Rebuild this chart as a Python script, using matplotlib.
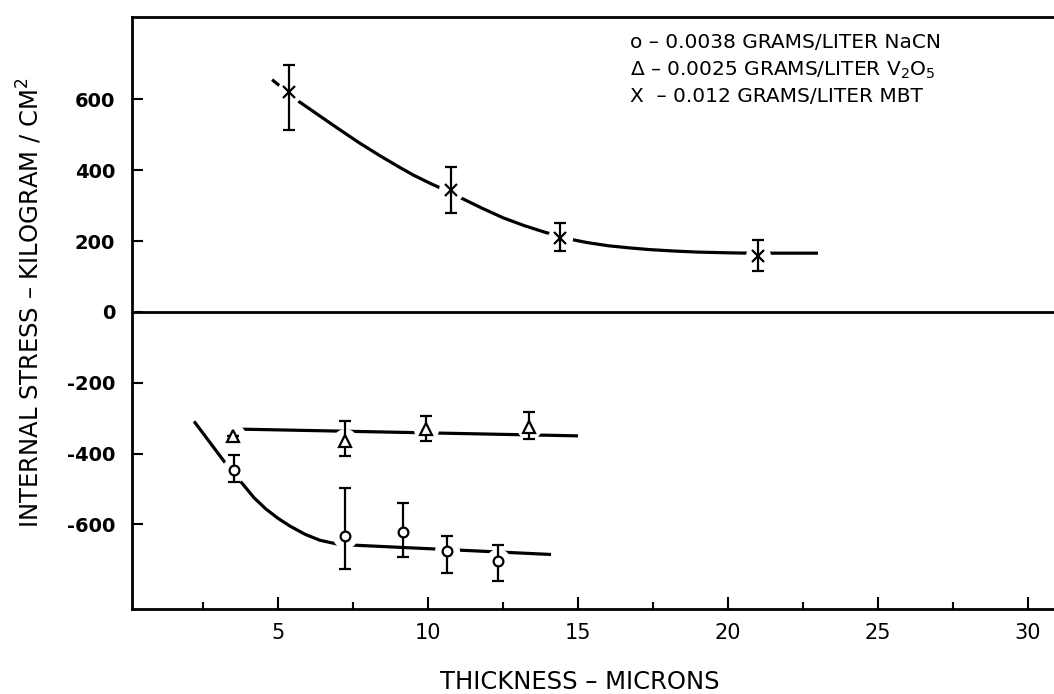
import matplotlib
matplotlib.use('Agg')
import matplotlib.pyplot as plt
import numpy as np

# thickness (microns) and internal stress (kg/cm^2)
nacn_x = [3.54, 7.23, 9.16, 10.62, 12.34]
nacn_y = [-446, -634, -621, -676, -704]
nacn_lo = [-479, -726, -692, -736, -759]
nacn_hi = [-405, -497, -540, -634, -659]

v2o5_x = [3.5, 7.23, 9.93, 13.37]
v2o5_y = [-350, -365, -331, -326]
v2o5_lo = [-350, -406, -365, -360]
v2o5_hi = [-350, -309, -293, -283]

mbt_x = [5.37, 10.78, 14.39, 20.99]
mbt_y = [621, 343, 209, 159]
mbt_lo = [515, 279, 171, 115]
mbt_hi = [698, 408, 252, 203]

# hand drawn fit curves
nacn_cx = [2.2, 3.2, 3.85, 4.2, 4.6, 5.0, 5.4, 5.9, 6.4, 7.0, 7.6, 14.1]
nacn_cy = [-309, -422, -489, -525, -557, -583, -605, -628, -645, -656, -659, -685]
v2o5_cx = [3.73, 15.0]
v2o5_cy = [-331, -350]
mbt_cx = [4.8, 5.7, 6.4, 7.0, 7.7, 8.4, 9.0, 9.5, 10.1, 10.6, 11.1, 11.8, 12.5,
          13.2, 13.9, 14.7, 15.3, 16.0, 16.7, 17.4, 18.2, 19.0, 20.0, 20.7, 23.0]
mbt_cy = [656, 594, 553, 518, 478, 441, 411, 387, 362, 343, 322, 293, 266,
          244, 225, 206, 196, 187, 181, 176, 172, 169, 167, 166, 166]

x_ticks = [5, 10, 15, 20, 25, 30]
x_minor = [2.5, 7.5, 12.5, 17.5, 22.5, 27.5]
y_ticks = [600, 400, 200, 0, -200, -400, -600]
y_labels = ['600', '400', '200', '0', '-200', '-400', '-600']

legend_lines = ['o – 0.0038 GRAMS/LITER NaCN',
                'Δ – 0.0025 GRAMS/LITER V$_2$O$_5$',
                'X  – 0.012 GRAMS/LITER MBT']

fig = plt.figure(figsize=(10.54, 6.94), dpi=100)
ax = fig.add_axes([132 / 1054, 1 - 609 / 694, 1 - 132 / 1054, (609 - 17) / 694])

for cx, cy in [(nacn_cx, nacn_cy), (v2o5_cx, v2o5_cy), (mbt_cx, mbt_cy)]:
    ax.plot(cx, cy, '-', color='black', lw=2.3, zorder=2, solid_capstyle='butt')

series = [(nacn_x, nacn_y, nacn_lo, nacn_hi, 'o', 7),
          (v2o5_x, v2o5_y, v2o5_lo, v2o5_hi, '^', 8),
          (mbt_x, mbt_y, mbt_lo, mbt_hi, 'x', 9)]
for xs, ys, lo, hi, m, ms in series:
    ys = np.array(ys)
    yerr = [ys - np.array(lo), np.array(hi) - ys]
    # white halo so the curves break around each point, as in the drawing
    ax.plot(xs, ys, 'o', ms=17, color='white', zorder=3)
    ax.errorbar(xs, ys, yerr=yerr, fmt=m, ms=ms, mfc='white', mec='black',
                mew=1.6, ecolor='black', elinewidth=1.6, capsize=4, capthick=1.6,
                zorder=4)

ax.axhline(0, color='black', lw=2)

ax.set_xlim(0.13, 30.87)
ax.set_ylim(-839, 833)
ax.set_xticks(x_ticks)
ax.set_xticks(x_minor, minor=True)
ax.set_yticks(y_ticks)
ax.set_yticklabels(y_labels, fontweight='bold')
ax.tick_params(axis='x', which='major', direction='in', length=9, width=1.5,
               labelsize=15, pad=10)
ax.tick_params(axis='x', which='minor', direction='in', length=5, width=1.5)
ax.tick_params(axis='y', direction='in', length=8, width=1.5, labelsize=14, pad=12)
for side in ['left', 'bottom', 'top']:
    ax.spines[side].set_linewidth(2)
ax.spines['right'].set_visible(False)

fig.text(30 / 1054, 1 - 303 / 694, 'INTERNAL STRESS – KILOGRAM / CM$^2$',
         rotation=90, ha='center', va='center', fontsize=17.5)
fig.text(580 / 1054, 1 - 682 / 694, 'THICKNESS – MICRONS',
         ha='center', va='center', fontsize=17.5)

for i, line in enumerate(legend_lines):
    fig.text(630 / 1054, 1 - (43 + 27 * i) / 694, line, ha='left', va='center',
             fontsize=14.5)

fig.savefig('out.png', dpi=100)
